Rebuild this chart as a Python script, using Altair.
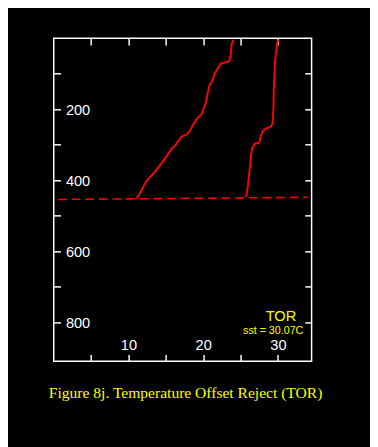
import altair as alt
import pandas as pd

# Left profile (temperature, depth)
left_x = [11.08, 11.51, 12.16, 12.6, 13.26, 14.11, 15.21, 15.86, 16.29, 16.72, 17.16, 17.81,
          18.24, 18.67, 19.11, 19.77, 19.97, 20.33, 20.55, 20.85, 21.28, 21.5, 21.93, 22.37,
          23.45, 23.67, 23.8, 24.01]
left_d = [452, 438, 411, 397, 383, 361, 329, 309, 301, 287, 276, 271,
          260, 242, 228, 214, 202, 182, 159, 132, 118, 100, 86, 71,
          65, 50, 18, 4]

# Right profile
right_x = [25.62, 25.83, 26.05, 26.28, 26.4, 26.57, 26.93, 27.49, 27.66, 28.0, 28.44, 29.09,
           29.3, 29.4, 29.44, 29.53, 29.61, 29.74, 29.87, 30.0]
right_d = [448, 438, 402, 356, 329, 309, 297, 294, 278, 260, 254, 248,
           237, 191, 146, 100, 63, 40, 18, 4]

# Dashed reference line
dash_x = [0.57, 33.99]
dash_d = [454, 448]

# Annotations
ann_text = ["TOR", "sst = 30.07C"]
ann_x = [30.4, 29.36]
ann_d = [796, 834]
ann_size = [15, 11]

x_ticks = [5, 10, 15, 20, 25, 30]
y_ticks = [100, 200, 300, 400, 500, 600, 700, 800]

W, H = 265, 332
X_DOMAIN = [0, 34.5]
Y_DOMAIN = [0, 910]

rows = []
for i, (x, d) in enumerate(zip(left_x, left_d)):
    rows.append({"profile": "left", "i": i, "x": x, "d": d})
for i, (x, d) in enumerate(zip(right_x, right_d)):
    rows.append({"profile": "right", "i": i, "x": x, "d": d})
prof = pd.DataFrame(rows)
dash = pd.DataFrame({"x": dash_x, "d": dash_d})
ann = pd.DataFrame({"t": ann_text, "x": ann_x, "d": ann_d, "s": ann_size})

xs = alt.Scale(domain=X_DOMAIN, nice=False, zero=False)
ys = alt.Scale(domain=Y_DOMAIN, nice=False, reverse=True)

lab_x = "datum.value % 10 === 0 ? datum.label : ''"
lab_y = "datum.value % 200 === 0 ? datum.label : ''"

profiles = alt.Chart(prof).mark_line(color="#ff0000", strokeWidth=2, clip=True).encode(
    x=alt.X("x:Q", scale=xs, axis=alt.Axis(orient="top", offset=-H, values=x_ticks,
                                           labelExpr=lab_x, labelPadding=2, title=None)),
    y=alt.Y("d:Q", scale=ys, axis=alt.Axis(orient="right", offset=-W, values=y_ticks,
                                           labelExpr=lab_y, labelAlign="left",
                                           labelPadding=5, title=None)),
    detail="profile:N",
    order="i:Q",
)

dashed = alt.Chart(dash).mark_line(color="#ff0000", strokeWidth=1.6, strokeDash=[9, 5]).encode(
    x=alt.X("x:Q", scale=xs, axis=alt.Axis(orient="bottom", offset=-H, values=x_ticks,
                                           labels=False, title=None)),
    y=alt.Y("d:Q", scale=ys, axis=alt.Axis(orient="left", offset=-W, values=y_ticks,
                                           labels=False, title=None)),
)

texts = alt.Chart(ann).mark_text(color="#ffff00", font="Liberation Sans", align="center",
                                 baseline="alphabetic").encode(
    x=alt.X("x:Q", scale=xs, axis=None),
    y=alt.Y("d:Q", scale=ys, axis=None),
    text="t:N",
    size=alt.Size("s:Q", scale=None, legend=None),
)

chart = alt.layer(profiles, dashed, texts).resolve_axis(
    x="independent", y="independent"
).properties(
    width=W,
    height=H,
    background="black",
    autosize=alt.AutoSizeParams(type="none"),
    padding={"left": 47, "top": 25, "right": 60, "bottom": 85},
    title=alt.Title("Figure 8j. Temperature Offset Reject (TOR)", orient="bottom",
                    color="#ffff00", font="Liberation Serif", fontSize=16,
                    fontWeight="normal", offset=24, anchor="middle", dx=3),
).configure_view(
    stroke="white", strokeWidth=1.5
).configure_axis(
    domain=False, grid=False, tickColor="white", tickWidth=1.5, tickSize=7,
    labelColor="white", labelFont="Liberation Sans", labelFontSize=15,
)

chart.save("out.html", embed_options={"renderer": "svg", "actions": False})
